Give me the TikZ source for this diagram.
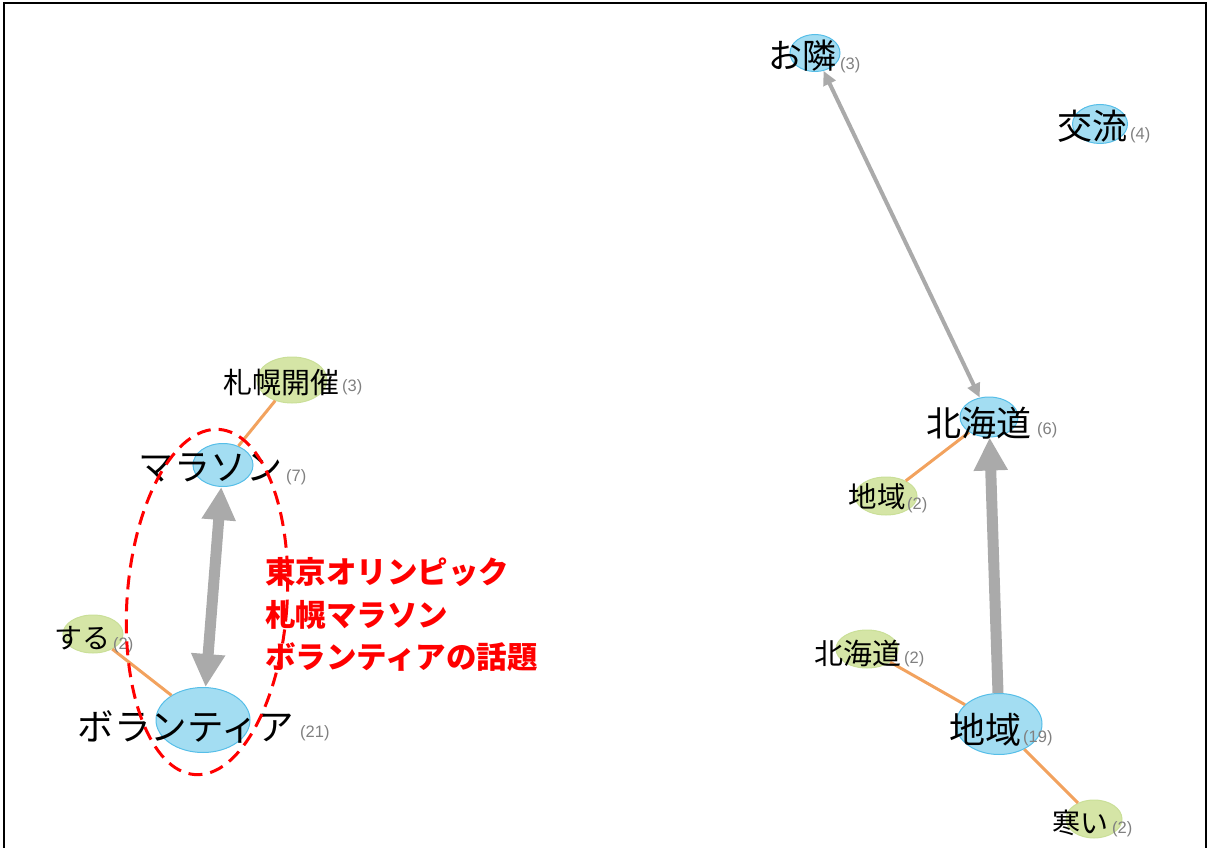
\documentclass[tikz,border=0pt]{standalone}
\usepackage{fontspec}
\setmainfont{Noto Sans CJK JP}
\newfontfamily\cntfont{Liberation Sans}
\usetikzlibrary{shapes.geometric,arrows.meta}

\definecolor{kwfill}{RGB}{163,221,242}
\definecolor{kwline}{RGB}{86,190,232}
\definecolor{cofill}{RGB}{213,229,166}
\definecolor{coline}{RGB}{202,223,152}
\definecolor{linkor}{RGB}{242,162,94}
\definecolor{arrgray}{RGB}{170,170,170}
\definecolor{cntgray}{RGB}{128,128,128}

\tikzset{
  kw/.style={ellipse,draw=kwline,fill=kwfill,line width=1pt,inner sep=0pt},
  co/.style={ellipse,draw=coline,fill=cofill,line width=1pt,inner sep=0pt},
  word/.style={inner sep=0pt,font=\fontsize{#1}{#1}\selectfont},
  cnt/.style={inner sep=0pt,anchor=west,text=cntgray,
    font=\cntfont\fontsize{16.5}{16.5}\selectfont},
  link/.style={draw=linkor,line width=3pt},
  thinarr/.style={draw=arrgray,line width=4pt,
    {Triangle[length=14pt,width=13pt]}-{Triangle[length=14pt,width=13pt]}},
  thickarr/.style={draw=arrgray,line width=11pt,
    -{Triangle[length=33pt,width=32pt]}},
  topic/.style={inner sep=0pt,anchor=west,align=left,text=red,
    font=\fontsize{30.5}{42.5}\selectfont\bfseries}
}

\begin{document}
\begin{tikzpicture}[x=1pt,y=-1pt]
  \useasboundingbox (0,0) rectangle (1208,848);
  \draw[line width=2.5pt] (4,848) -- (4,3) -- (1206,3) -- (1206,848);

  % ellipses: name/x/y/width/height/style
  \foreach \nm/\x/\y/\w/\h/\st in {
    onari/815/53/50/37/kw, koryu/1100/124/55/39/kw,
    sapporo/292/380/70/46/co, marathon/223/465/60/43/kw,
    suru/93/634/60/38/co, volunteer/203/720/94/65/kw,
    hokkaido/989/417/58/40/kw, chiikiB/886/496/62/38/co,
    hokkaidoB/867/649/62/38/co, chiiki/999/724/86/61/kw,
    samui/1094/819/56/38/co} {
    \node[\st,minimum width=\w,minimum height=\h] (\nm) at (\x,\y) {};
  }

  \draw[link] (sapporo) -- (marathon);
  \draw[link] (suru) -- (volunteer);
  \draw[link] (chiikiB) -- (hokkaido);
  \draw[link] (hokkaidoB) -- (chiiki);
  \draw[link] (chiiki) -- (samui);

  \draw[thinarr] (onari) -- (hokkaido);
  \draw[thickarr,{Triangle[length=33pt,width=32pt]}-{Triangle[length=33pt,width=32pt]}]
    (marathon) -- (volunteer);
  \draw[thickarr] (chiiki) -- (hokkaido);

  % words and counts
  \node[word=34] (w-onari) at (802,56) {お隣};
  \node[word=35] (w-koryu) at (1092,126) {交流};
  \node[word=29] (w-sapporo) at (281,382) {札幌開催};
  \node[word=36] (w-marathon) at (210,468) {マラソン};
  \node[word=28] (w-suru) at (82,638) {する};
  \node[word=36.5] (w-volunteer) at (186,727) {ボランティア};
  \node[word=35] (w-hokkaido) at (979,423) {北海道};
  \node[word=28.5] (w-chiikiB) at (877,497) {地域};
  \node[word=29] (w-hokkaidoB) at (858,653) {北海道};
  \node[word=36] (w-chiiki) at (985,730) {地域};
  \node[word=28] (w-samui) at (1080,823) {寒い};

  \foreach \nm/\x/\y/\n in {
    onari/840/65/3, koryu/1130/135/4, sapporo/342/387/3,
    marathon/286/477/7, suru/113/645/2, volunteer/300/733/21,
    hokkaido/1037/430/6, chiikiB/907/505/2, hokkaidoB/904/659/2,
    chiiki/1023/738/19, samui/1112/829/2} {
    \node[cnt] (c-\nm) at (\x,\y) {(\n)};
  }

  % highlighted group
  \draw[red,line width=3pt,dash pattern=on 14pt off 8pt,
    rotate around={-4:(207,602)}] (207,602) ellipse [x radius=80,y radius=173];
  \node[topic] (topic) at (265,615) {東京オリンピック\\札幌マラソン\\ボランティアの話題};
\end{tikzpicture}
\end{document}
